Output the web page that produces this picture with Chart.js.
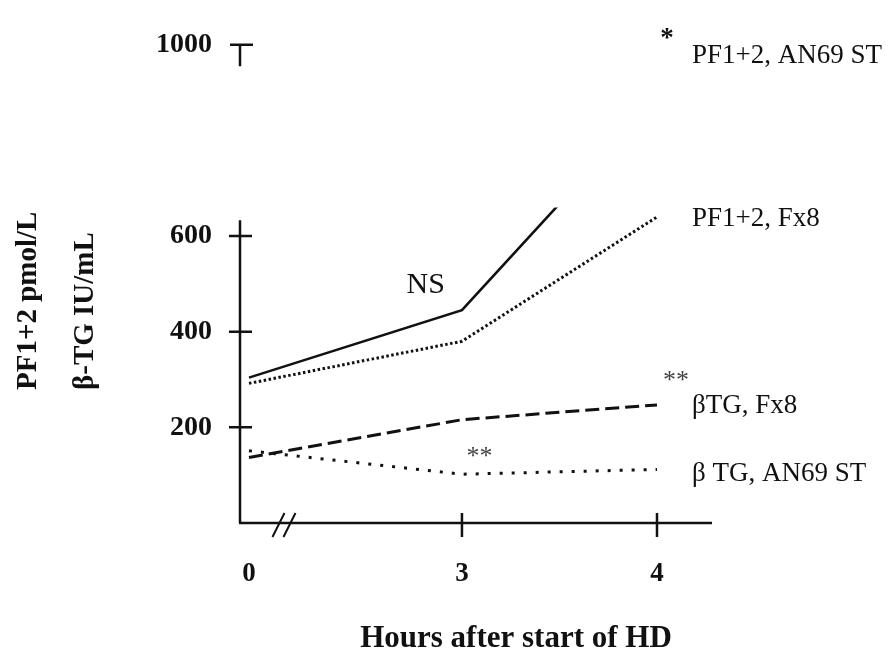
<!DOCTYPE html>
<html>
<head>
<meta charset="utf-8">
<script src="https://cdn.jsdelivr.net/npm/chart.js@4.4.0/dist/chart.umd.min.js"></script>
<style>
html, body { margin: 0; padding: 0; background: #fff; }
#wrap { width: 896px; height: 652px; position: relative; }
</style>
</head>
<body>
<div id="wrap"><canvas id="chart"></canvas></div>
<script>
// ==========================================
// DATA
// ==========================================
const hours      = [0, 3, 4];
const tickLabels = ['0', '3', '4'];

const pf12_an69 = [304, 445, 890];   // PF1+2, AN69 ST (runs off the top)
const pf12_fx8  = [292, 380, 640];   // PF1+2, Fx8
const btg_fx8   = [137, 216, 247];   // βTG, Fx8
const btg_an69  = [151, 102, 112];   // β TG, AN69 ST

const yTicks = [200, 400, 600, 1000];

// the time axis has a // break, 0-3 h is squeezed
const squeeze = 0.364;
function hourPos(h) { return h <= 3 ? h * squeeze : 3 * squeeze + (h - 3); }

// value axis is broken between these two values
const yBreakLow  = 633;
const yBreakHigh = 955;
const lineCut    = 660;   // lines are hidden above this

const serif = '"Liberation Serif", "Times New Roman", serif';

function points(vals) {
    return hours.map((h, i) => ({ x: hourPos(h), y: vals[i] }));
}

// ==========================================
// PLUGINS
// ==========================================
const breakClip = {
    id: 'breakClip',
    beforeDatasetDraw(chart) {
        const { ctx, chartArea, scales: { y } } = chart;
        const top = y.getPixelForValue(lineCut);
        ctx.save();
        ctx.beginPath();
        ctx.rect(chartArea.left - 5, top, chartArea.width + 10, chartArea.bottom - top + 10);
        ctx.clip();
    },
    afterDatasetDraw(chart) {
        chart.ctx.restore();
    }
};

const axesAndNotes = {
    id: 'axesAndNotes',
    afterDraw(chart) {
        const { ctx, chartArea, scales: { x, y } } = chart;
        const ax = chartArea.left;
        const by = chartArea.bottom;
        ctx.save();
        ctx.strokeStyle = '#111';
        ctx.lineWidth = 2.5;
        ctx.lineCap = 'butt';

        // y axis: short top stub + main part
        const yTop = y.getPixelForValue(1000);
        ctx.beginPath();
        ctx.moveTo(ax - 10, yTop); ctx.lineTo(ax + 13, yTop);
        ctx.moveTo(ax, yTop); ctx.lineTo(ax, y.getPixelForValue(yBreakHigh));
        ctx.moveTo(ax, y.getPixelForValue(yBreakLow)); ctx.lineTo(ax, by);
        yTicks.filter(v => v < yBreakLow).forEach(v => {
            const py = y.getPixelForValue(v);
            ctx.moveTo(ax - 11, py); ctx.lineTo(ax + 12, py);
        });
        // x axis
        ctx.moveTo(ax - 1, by); ctx.lineTo(chartArea.right, by);
        hours.filter(h => h > 0).forEach(h => {
            const px = x.getPixelForValue(hourPos(h));
            ctx.moveTo(px, by - 10); ctx.lineTo(px, by + 14);
        });
        ctx.stroke();

        // break marks //
        ctx.lineWidth = 2;
        const bx = x.getPixelForValue(hourPos(0.5));
        ctx.beginPath();
        [-6, 5].forEach(d => {
            ctx.moveTo(bx + d - 6, by + 14);
            ctx.lineTo(bx + d + 6, by - 10);
        });
        ctx.stroke();

        // axis titles
        ctx.fillStyle = '#111';
        ctx.textBaseline = 'alphabetic';
        ctx.font = 'bold 31px ' + serif;
        ctx.textAlign = 'center';
        ctx.fillText('Hours after start of HD', 516, 647);

        ctx.font = 'bold 29px ' + serif;
        ctx.textAlign = 'left';
        [['PF1+2 pmol/L', 36], ['β-TG IU/mL', 93]].forEach(([t, px]) => {
            ctx.save();
            ctx.translate(px, 390);
            ctx.rotate(-Math.PI / 2);
            ctx.fillText(t, 0, 0);
            ctx.restore();
        });

        // series labels and significance marks
        const notes = [
            { t: 'PF1+2, AN69 ST', h: 4, dx: 35, v: 961, size: 27 },
            { t: 'PF1+2, Fx8',     h: 4, dx: 35, v: 622, size: 27 },
            { t: 'βTG, Fx8',       h: 4, dx: 35, v: 231, size: 27 },
            { t: 'β TG, AN69 ST',  h: 4, dx: 35, v: 88,  size: 27 },
            { t: 'NS',   h: 2.49, dx: 0, v: 482, size: 30, align: 'center' },
            { t: '*',    h: 4,    dx: 10, v: 998, size: 27, align: 'center', bold: true },
            { t: '**',   h: 4,    dx: 19, v: 282, size: 26, align: 'center', color: '#444' },
            { t: '**',   h: 3.09, dx: 0, v: 124, size: 26, align: 'center', color: '#444' }
        ];
        notes.forEach(n => {
            ctx.font = (n.bold ? 'bold ' : '') + n.size + 'px ' + serif;
            ctx.fillStyle = n.color || '#111';
            ctx.textAlign = n.align || 'left';
            ctx.fillText(n.t, x.getPixelForValue(hourPos(n.h)) + n.dx, y.getPixelForValue(n.v));
        });
        ctx.restore();
    }
};

// ==========================================
// CHART
// ==========================================
const lineBase = { fill: false, tension: 0, pointRadius: 0, borderColor: '#111', borderWidth: 2.6 };

new Chart(document.getElementById('chart'), {
    type: 'line',
    data: {
        datasets: [
            { ...lineBase, label: 'PF1+2, AN69 ST', data: points(pf12_an69) },
            { ...lineBase, label: 'PF1+2, Fx8', data: points(pf12_fx8), borderDash: [2.5, 2.5], borderWidth: 3 },
            { ...lineBase, label: 'βTG, Fx8', data: points(btg_fx8), borderDash: [14, 6], borderWidth: 3 },
            { ...lineBase, label: 'β TG, AN69 ST', data: points(btg_an69), borderDash: [3, 9], borderWidth: 3 }
        ]
    },
    options: {
        responsive: true,
        maintainAspectRatio: false,
        animation: false,
        layout: { padding: { top: 33, right: 184, left: 0, bottom: 0 } },
        plugins: { legend: { display: false }, tooltip: { enabled: false } },
        scales: {
            x: {
                type: 'linear',
                min: -0.046,
                max: 2.374,
                grid: { display: false, drawTicks: false },
                border: { display: false },
                afterBuildTicks: s => { s.ticks = hours.map(h => ({ value: hourPos(h) })); },
                afterFit: s => { s.height = 129; },
                ticks: {
                    autoSkip: false,
                    maxRotation: 0,
                    padding: 35,
                    color: '#111',
                    font: { family: serif, size: 27, weight: 'bold' },
                    callback: (v, i) => tickLabels[i]
                }
            },
            y: {
                min: 0,
                max: 1000,
                grid: { display: false, drawTicks: false },
                border: { display: false },
                afterBuildTicks: s => { s.ticks = yTicks.map(v => ({ value: v })); },
                afterFit: s => { s.width = 240; },
                ticks: {
                    padding: 28,
                    color: '#111',
                    font: { family: serif, size: 28, weight: 'bold' },
                    callback: v => String(v)
                }
            }
        }
    },
    plugins: [breakClip, axesAndNotes]
});
</script>
</body>
</html>
